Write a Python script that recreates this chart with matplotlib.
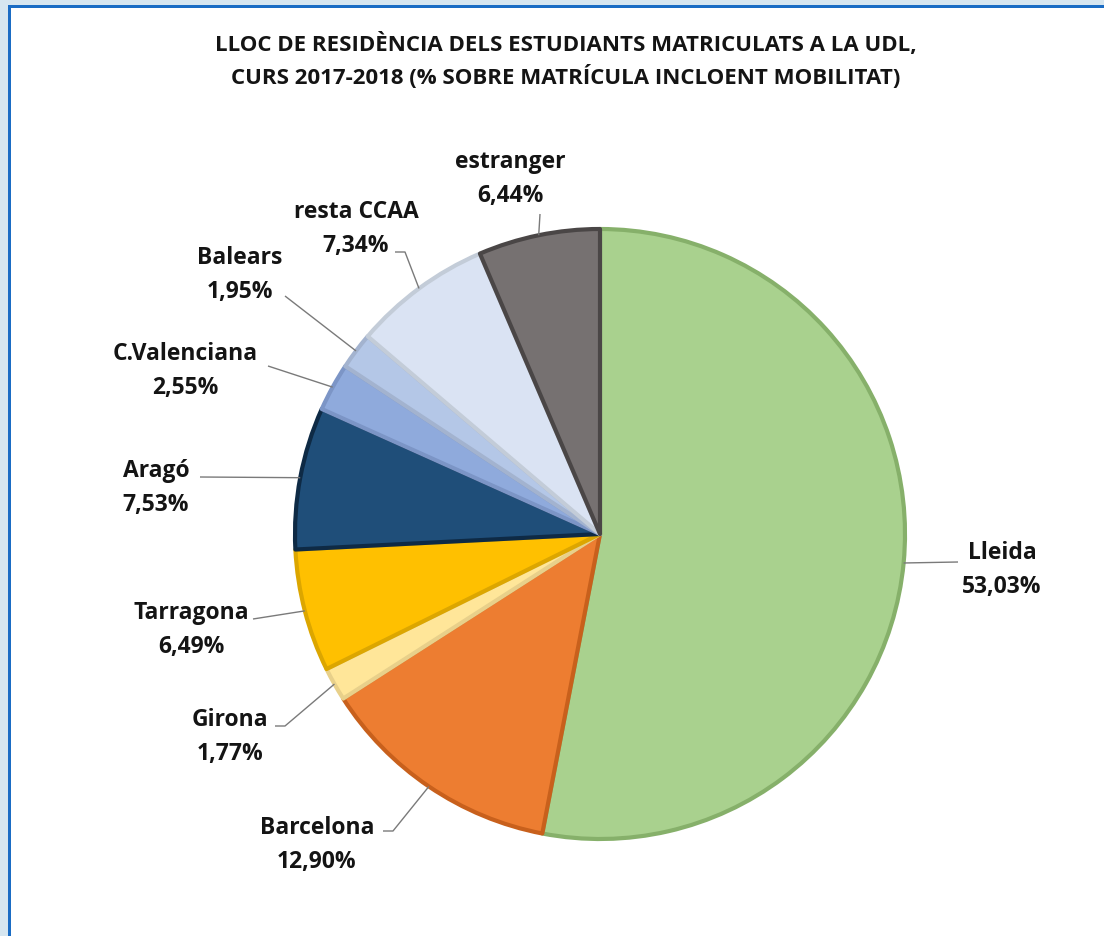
import matplotlib
matplotlib.use('Agg')
import matplotlib.pyplot as plt
from matplotlib.patches import Rectangle
import numpy as np

# ---- data ----
categories = ['Lleida', 'Barcelona', 'Girona', 'Tarragona', 'Aragó',
              'C.Valenciana', 'Balears', 'resta CCAA', 'estranger']
values = [53.03, 12.90, 1.77, 6.49, 7.53, 2.55, 1.95, 7.34, 6.44]
title_lines = ["LLOC DE RESIDÈNCIA DELS ESTUDIANTS MATRICULATS A LA UDL,",
               "CURS 2017-2018 (% SOBRE MATRÍCULA INCLOENT MOBILITAT)"]

# ---- style ----
fill_colors = ['#a9d18e', '#ed7d31', '#ffe699', '#ffc000', '#1f4e79',
               '#8faadc', '#b4c7e7', '#dae3f3', '#767171']
edge_colors = ['#86b06a', '#c8601c', '#e8d08a', '#dca600', '#0e2a45',
               '#7c95c6', '#a3b3cf', '#c3ccd8', '#4a4646']

W, H = 1104, 937
FONT = ['Open Sans', 'DejaVu Sans']

# label layout (pixel coords, origin top-left)
label_xy = [(1002, 570), (317, 845), (230, 737), (191, 630), (156, 488),
            (185, 371), (240, 275), (356, 229), (510, 179)]
leader_pts = [[(958, 563)],
              [(393, 832), (383, 832)],
              [(285, 727), (275, 727)],
              [(253, 620)],
              [(200, 478)],
              [(268, 367)],
              [(285, 297)],
              [(405, 253), (395, 253)],
              [(540, 215)]]

fig = plt.figure(figsize=(W / 100, H / 100), dpi=100, facecolor='#d6e6f0')
ax = fig.add_axes([0, 0, 1, 1])

def fy(y):
    return H - y

cx, cy, R = 600, fy(535), 305
wedges, _ = ax.pie(values, colors=fill_colors, startangle=90, counterclock=False,
                   center=(cx, cy), radius=R,
                   wedgeprops=dict(linewidth=3, joinstyle='round'))
for w, ec in zip(wedges, edge_colors):
    w.set_edgecolor(ec)
    w.set_zorder(3)

ax.set_xlim(0, W)
ax.set_ylim(0, H)
ax.set_aspect('auto')
ax.axis('off')

# frame
ax.add_patch(Rectangle((10, 0), W - 10, H - 9, facecolor='white', edgecolor='none', zorder=0))
ax.add_patch(Rectangle((8, 0), 2.5, H - 6, facecolor='#1a6cc4', edgecolor='none', zorder=1))
ax.add_patch(Rectangle((8, H - 9), W - 8, 3, facecolor='#1a6cc4', edgecolor='none', zorder=1))

# labels
for w, name, v, (lx, ly), pts in zip(wedges, categories, values, label_xy, leader_pts):
    th = np.deg2rad((w.theta1 + w.theta2) / 2)
    ax_pt = (cx + R * np.cos(th), cy + R * np.sin(th))
    xs = [ax_pt[0]] + [p[0] for p in pts]
    ys = [ax_pt[1]] + [fy(p[1]) for p in pts]
    ax.plot(xs, ys, color='#7a7a7a', lw=1, zorder=4, solid_capstyle='butt')
    txt = name + '\n' + f"{v:.2f}".replace('.', ',') + '%'
    ax.text(lx, fy(ly), txt, ha='center', va='center', fontsize=16.5,
            fontweight='bold', family=FONT, color='#141414', linespacing=1.55, zorder=5)

for i, line in enumerate(title_lines):
    ax.text(566, fy(45 + 32 * i), line, ha='center', va='center', fontsize=16,
            fontweight='bold', family=FONT, color='#141414', zorder=5)

fig.savefig('out.png', dpi=100, facecolor=fig.get_facecolor())
